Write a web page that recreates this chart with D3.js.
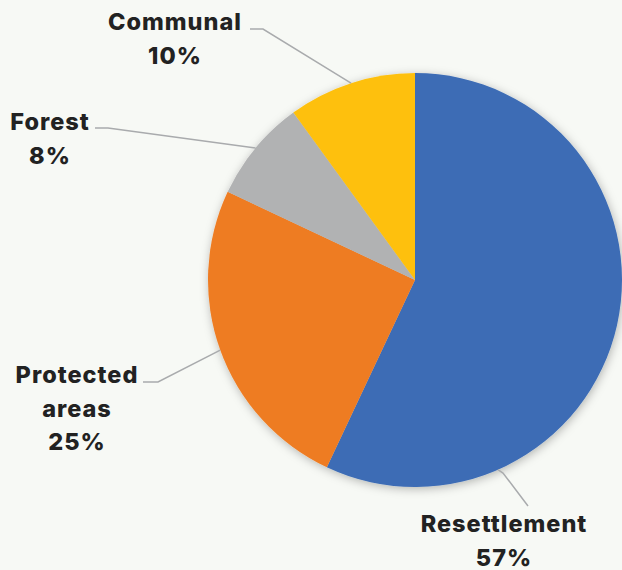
<!DOCTYPE html>
<html>
<head>
<meta charset="utf-8">
<style>
  html, body { margin: 0; padding: 0; background: #f7f9f5; }
  svg { display: block; }
  .lbl { font-family: Inter, "Noto Sans", sans-serif; font-weight: 800; font-size: 23.5px; fill: #222222; letter-spacing: 1px; }
</style>
<script src="https://d3js.org/d3.v7.min.js"></script>
</head>
<body>
<svg width="622" height="570"></svg>
<script>
    // data, clockwise from 12 o'clock
    var categories = ["Resettlement", "Protected areas", "Forest", "Communal"];
    var shares = [57, 25, 8, 10];
    var colors = ["#3d6cb5", "#ee7b22", "#b1b2b3", "#fec011"];

    var svg = d3.select("svg");
    var cx = 415, cy = 280, radius = 207;

    var defs = svg.append("defs");
    var f = defs.append("filter").attr("id", "shadow")
        .attr("x", "-20%").attr("y", "-20%").attr("width", "140%").attr("height", "140%");
    f.append("feDropShadow")
        .attr("dx", 1).attr("dy", 2)
        .attr("stdDeviation", 5)
        .attr("flood-color", "#000").attr("flood-opacity", 0.28);

    var pie = d3.pie().sort(null).value(function (d) { return d; });
    var arcs = pie(shares);
    var arc = d3.arc().innerRadius(0).outerRadius(radius);

    var g = svg.append("g").attr("transform", "translate(" + cx + "," + cy + ")");

    g.append("g").attr("filter", "url(#shadow)")
        .selectAll("path")
        .data(arcs)
        .enter().append("path")
        .attr("d", arc)
        .attr("fill", function (d, i) { return colors[i]; });

    // label layout: text lines, text anchor point, elbow, angle where the leader meets the pie
    var layout = [
        { lines: ["Resettlement"], x: 504, y: 532, elbow: [[528, 506], [503, 473]], angle: 156.4 },
        { lines: ["Protected", "areas"], x: 77, y: 383, elbow: [[143, 382], [158, 382]], angle: null },
        { lines: ["Forest"], x: 50, y: 130, elbow: [[95, 128], [108, 128]], angle: null },
        { lines: ["Communal"], x: 175, y: 30, elbow: [[250, 29], [263, 29]], angle: null }
    ];

    var lineGen = d3.line();
    arcs.forEach(function (a, i) {
        var L = layout[i];
        var ang = L.angle == null ? (a.startAngle + a.endAngle) / 2 : L.angle * Math.PI / 180;
        var edge = [cx + radius * Math.sin(ang), cy - radius * Math.cos(ang)];
        svg.append("path")
            .attr("d", lineGen(L.elbow.concat([edge])))
            .attr("fill", "none")
            .attr("stroke", "#a9abad")
            .attr("stroke-width", 1.5);

        var t = svg.append("text").attr("class", "lbl").attr("text-anchor", "middle");
        var all = L.lines.concat([d3.format(".0f")(shares[i]) + "%"]);
        all.forEach(function (s, j) {
            t.append("tspan").attr("x", L.x).attr("y", L.y + j * 33.5).text(s);
        });
    });
</script>
</body>
</html>
